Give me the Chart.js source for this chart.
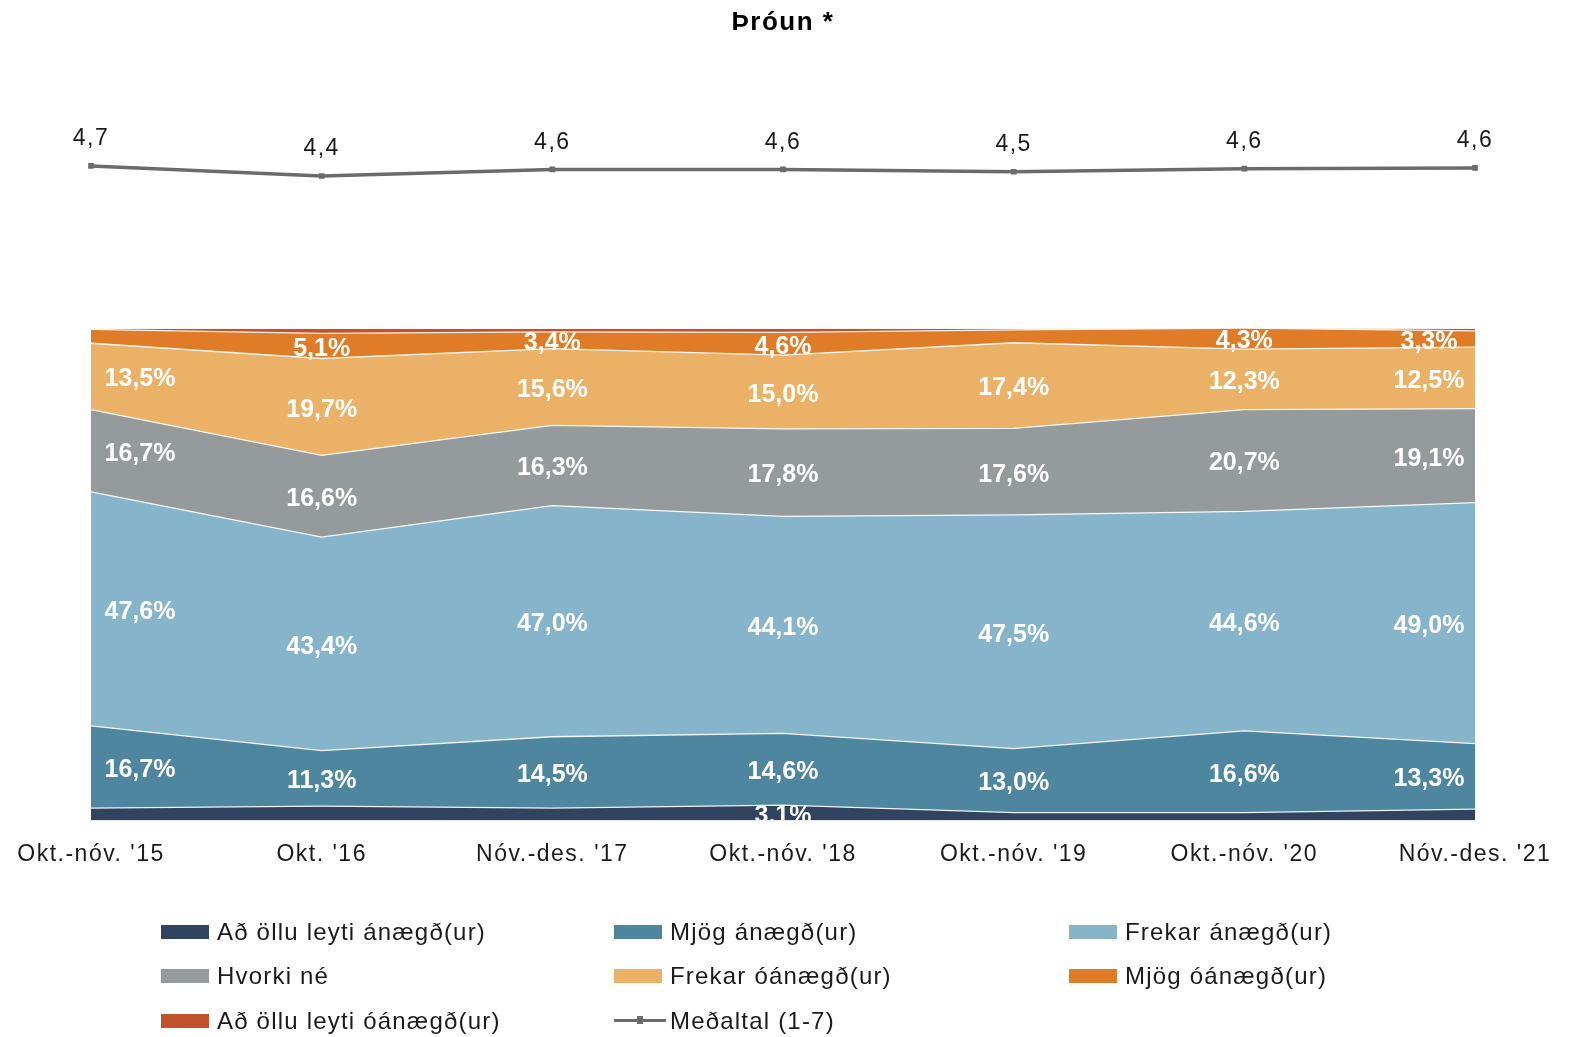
<!DOCTYPE html>
<html lang="is">
<head>
<meta charset="utf-8">
<title>Þróun</title>
<script src="https://cdn.jsdelivr.net/npm/chart.js@4.4.1/dist/chart.umd.min.js"></script>
<style>
    html, body { margin: 0; padding: 0; background: #fff; }
    #wrap { position: relative; width: 1578px; height: 1037px; }
    #chartCanvas { position: absolute; left: 0; top: 0; }
    .legend-item {
        position: absolute;
        display: flex;
        align-items: center;
        font-family: 'Liberation Sans', Arial, sans-serif;
        font-size: 24px;
        letter-spacing: 1.2px;
        color: #1b1b1b;
        white-space: nowrap;
        transform: translateY(-50%);
    }
    .legend-item .sw { width: 48px; height: 14px; margin-right: 8px; }
    .legend-item .ln { position: relative; width: 52px; height: 14px; margin-right: 4px; }
    .legend-item .ln::before { content: ''; position: absolute; left: 0; right: 0; top: 5px; height: 3px; background: #6b6b6b; }
    .legend-item .ln::after { content: ''; position: absolute; left: 23px; top: 2px; width: 6px; height: 8px; background: #6b6b6b; }
</style>
</head>
<body>
<div id="wrap">
    <canvas id="chartCanvas" width="1578" height="1037"></canvas>
</div>
<script>
// periods on the x axis
const periods = ["Okt.-nóv. '15", "Okt. '16", "Nóv.-des. '17", "Okt.-nóv. '18", "Okt.-nóv. '19", "Okt.-nóv. '20", "Nóv.-des. '21"];

// answer shares in %, bottom of the stack first
const aoVelAnaegd   = [2.5, 2.9, 2.5, 3.1, 1.6, 1.6, 2.3];
const mjogAnaegd    = [16.7, 11.3, 14.5, 14.6, 13.0, 16.6, 13.3];
const frekarAnaegd  = [47.6, 43.4, 47.0, 44.1, 47.5, 44.6, 49.0];
const hvorkiNe      = [16.7, 16.6, 16.3, 17.8, 17.6, 20.7, 19.1];
const frekarOanaegd = [13.5, 19.7, 15.6, 15.0, 17.4, 12.3, 12.5];
const mjogOanaegd   = [2.8, 5.1, 3.4, 4.6, 2.6, 4.3, 3.3];
const aoVelOanaegd  = [0.2, 1.0, 0.7, 0.8, 0.3, 0.0, 0.5];

// mean on a 1-7 scale
const medaltal = [4.68, 4.42, 4.59, 4.59, 4.53, 4.61, 4.63];

const seriesNames = ['Að öllu leyti ánægð(ur)', 'Mjög ánægð(ur)', 'Frekar ánægð(ur)', 'Hvorki né',
    'Frekar óánægð(ur)', 'Mjög óánægð(ur)', 'Að öllu leyti óánægð(ur)'];
const seriesData = [aoVelAnaegd, mjogAnaegd, frekarAnaegd, hvorkiNe, frekarOanaegd, mjogOanaegd, aoVelOanaegd];
const seriesColors = ['#30445f', '#4e86a0', '#86b5cb', '#959b9c', '#ebb166', '#e07c27', '#c2522c'];
const meanLabel = 'Meðaltal (1-7)';
const meanColor = '#6b6b6b';

// axis ranges chosen so the 100% stack fills the lower part and the mean line floats above it
const PCT_MAX = 146.2;
const MEAN_MIN = -12.3;
const MEAN_MAX = 6.36;

const FONT = "'Liberation Sans', Arial, sans-serif";

const areaDatasets = seriesData.map((values, i) => ({
    type: 'line',
    label: seriesNames[i],
    data: values,
    yAxisID: 'y',
    backgroundColor: seriesColors[i],
    borderColor: 'rgba(255,255,255,0.9)',
    borderWidth: 1.3,
    fill: i === 0 ? 'origin' : '-1',
    pointRadius: 0,
    tension: 0,
    order: 2
}));

const meanDataset = {
    type: 'line',
    label: meanLabel,
    data: medaltal,
    yAxisID: 'yMean',
    borderColor: meanColor,
    backgroundColor: meanColor,
    borderWidth: 3.5,
    fill: false,
    pointStyle: 'rect',
    pointRadius: 4,
    pointBorderWidth: 0,
    tension: 0,
    order: 1
};

function fmt(v, digits) {
    return v.toFixed(digits).replace('.', ',');
}

// the reference text is set a little wider than the plain font
const textSpacing = {
    id: 'textSpacing',
    beforeDraw(chart) {
        chart.ctx.letterSpacing = '1.5px';
    }
};

// white value labels in the middle of each band, and mean values above the line
const valueLabels = {
    id: 'valueLabels',
    afterDatasetsDraw(chart) {
        const ctx = chart.ctx;
        const area = chart.chartArea;
        const yScale = chart.scales.y;

        ctx.save();
        ctx.beginPath();
        ctx.rect(area.left, area.top, area.right - area.left, area.bottom - area.top);
        ctx.clip();
        ctx.letterSpacing = '0px';
        ctx.font = 'bold 25px ' + FONT;
        ctx.fillStyle = '#ffffff';
        ctx.textBaseline = 'middle';
        ctx.textAlign = 'center';

        seriesData.forEach((values, i) => {
            const meta = chart.getDatasetMeta(i);
            const prevMeta = i > 0 ? chart.getDatasetMeta(i - 1) : null;
            values.forEach((v, j) => {
                if (v < 3) return;
                const top = meta.data[j].y;
                const bottom = prevMeta ? prevMeta.data[j].y : yScale.getPixelForValue(0);
                let x = meta.data[j].x;
                x = Math.max(area.left + 49, Math.min(area.right - 46, x));
                ctx.fillText(fmt(v, 1) + '%', x, (top + bottom) / 2 + 3);
            });
        });
        ctx.restore();

        const meanMeta = chart.getDatasetMeta(seriesData.length);
        ctx.save();
        ctx.letterSpacing = '1.5px';
        ctx.font = '23px ' + FONT;
        ctx.fillStyle = '#1b1b1b';
        ctx.textAlign = 'center';
        ctx.textBaseline = 'middle';
        medaltal.forEach((v, j) => {
            const p = meanMeta.data[j];
            ctx.fillText(fmt(v, 1), p.x, p.y - 27);
        });
        ctx.restore();
    }
};

const chartCanvas = document.getElementById('chartCanvas').getContext('2d');

new Chart(chartCanvas, {
    data: {
        labels: periods,
        datasets: [...areaDatasets, meanDataset]
    },
    options: {
        responsive: false,
        animation: false,
        layout: { padding: { left: 91, right: 103, top: 0, bottom: 149 } },
        plugins: {
            legend: { display: false },
            tooltip: { enabled: false },
            title: {
                display: true,
                text: 'Þróun *',
                color: '#000',
                font: { family: FONT, size: 26, weight: 'bold' },
                padding: { top: 7, bottom: 63 }
            }
        },
        scales: {
            x: {
                offset: false,
                grid: { display: false, drawTicks: false },
                border: { display: false },
                ticks: {
                    color: '#1b1b1b',
                    font: { family: FONT, size: 23 },
                    padding: 20,
                    maxRotation: 0,
                    autoSkip: false
                }
            },
            y: {
                stacked: true,
                min: 0,
                max: PCT_MAX,
                display: false
            },
            yMean: {
                min: MEAN_MIN,
                max: MEAN_MAX,
                display: false
            }
        }
    },
    plugins: [textSpacing, valueLabels]
});

// legend in three columns, built from the same names and colours
const wrap = document.getElementById('wrap');
const legendCols = [161, 614, 1069];
const legendRows = [932, 976, 1021];
const legendEntries = seriesNames.map((name, i) => ({ name, color: seriesColors[i] }));
legendEntries.push({ name: meanLabel, line: true });

legendEntries.forEach((entry, k) => {
    const item = document.createElement('div');
    item.className = 'legend-item';
    item.style.left = legendCols[k % 3] + 'px';
    item.style.top = legendRows[Math.floor(k / 3)] + 'px';
    const sw = document.createElement('span');
    if (entry.line) {
        sw.className = 'ln';
    } else {
        sw.className = 'sw';
        sw.style.background = entry.color;
    }
    const txt = document.createElement('span');
    txt.textContent = entry.name;
    item.appendChild(sw);
    item.appendChild(txt);
    wrap.appendChild(item);
});
</script>
</body>
</html>
